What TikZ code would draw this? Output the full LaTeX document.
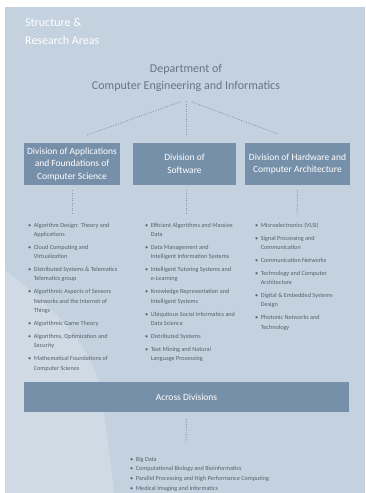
\documentclass[tikz,border=0pt]{standalone}
\usepackage{fontspec}
\setmainfont{Carlito}
\definecolor{panel}{HTML}{C4D2DF}
\definecolor{panellight}{HTML}{CFDAE5}
\definecolor{boxfill}{HTML}{7790AA}
\definecolor{dotcol}{HTML}{8497AC}
\definecolor{depttext}{HTML}{687684}
\definecolor{listtext}{HTML}{56606C}
\tikzset{
  divbox/.style={draw=none, fill=boxfill, text=white, align=center, inner sep=0pt,
    font=\fontsize{9.5}{12.5}\selectfont},
  dotline/.style={draw=dotcol, line width=0.9pt, dash pattern=on 0.9pt off 1.6pt},
  listnode/.style={inner sep=0pt, anchor=base west, text=listtext,
    font=\fontsize{6.2}{9.3}\selectfont},
}
\newcommand\bul{\textbullet}
\begin{document}
\begin{tikzpicture}[x=1pt,y=-1pt]
\useasboundingbox (0,0) rectangle (366,493);
% background
\fill[panel] (5,7) rectangle (365,493);
\fill[panellight] (5,270) .. controls (70,320) and (100,360) .. (104,410)
  .. controls (108,450) and (112,470) .. (114,493) -- (5,493) -- cycle;
% title
\node[anchor=base west, inner sep=0pt, text=white, align=left,
  font=\fontsize{12}{18}\selectfont] (title) at (25,44) {Structure \&\\Research Areas};
% department
\node[anchor=base, inner sep=0pt, text=depttext, align=center,
  font=\fontsize{12}{17}\selectfont] (dept) at (186,89)
  {Department of\\Computer Engineering and Informatics};
% division boxes
\node[divbox, minimum width=96pt, minimum height=42pt] (app) at (72,164)
  {Division of Applications\\and Foundations of\\Computer Science};
\node[divbox, minimum width=103pt, minimum height=42pt] (soft) at (184.5,164)
  {Division of\\Software};
\node[divbox, minimum width=105pt, minimum height=42pt] (hw) at (297.5,164)
  {Division of Hardware and\\Computer Architecture};
% connectors from department
\coordinate (jl) at (180,102);
\coordinate (jc) at (186,101);
\coordinate (jr) at (192,102);
\coordinate (el) at (87,135);
\coordinate (ec) at (186,135);
\coordinate (er) at (278,134);
\draw[dotline] (jl) -- (el);
\draw[dotline] (jc) -- (ec);
\draw[dotline] (jr) -- (er);
% connectors below boxes
\coordinate (al) at (72,215);
\coordinate (sl) at (186,215);
\coordinate (hl) at (297,215);
\draw[dotline] ([yshift=-5pt]app.south) -- (al);
\draw[dotline] ([xshift=1.5pt,yshift=-5pt]soft.south) -- (sl);
\draw[dotline] ([yshift=-5pt]hw.south) -- (hl);
% lists
\node[listnode] (listA) at (28,227) {\begin{tabular}[t]{@{}l@{\hspace{2.6pt}}l@{}}
\bul & Algorithm Design: Theory and\\
 & Applications\\[3.7pt]
\bul & Cloud Computing and\\
 & Virtualization\\[3.7pt]
\bul & Distributed Systems \& Telematics\\
 & Telematics group\\[3.7pt]
\bul & Algorithmic Aspects of Sensors\\
 & Networks and the Internet of\\
 & Things\\[3.7pt]
\bul & Algorithmic Game Theory\\[3.7pt]
\bul & Algorithms, Optimization and\\
 & Security\\[3.7pt]
\bul & Mathematical Foundations of\\
 & Computer Science
\end{tabular}};
\node[listnode] (listB) at (145,227) {\begin{tabular}[t]{@{}l@{\hspace{2.6pt}}l@{}}
\bul & Efficient Algorithms and Massive\\
 & Data\\[3.7pt]
\bul & Data Management and\\
 & Intelligent Information Systems\\[3.7pt]
\bul & Intelligent Tutoring Systems and\\
 & e-Learning\\[3.7pt]
\bul & Knowledge Representation and\\
 & Intelligent Systems\\[3.7pt]
\bul & Ubiquitous Social Informatics and\\
 & Data Science\\[3.7pt]
\bul & Distributed Systems\\[3.7pt]
\bul & Text Mining and Natural\\
 & Language Processing
\end{tabular}};
\node[listnode] (listC) at (255,227) {\begin{tabular}[t]{@{}l@{\hspace{2.6pt}}l@{}}
\bul & Microelectronics (VLSI)\\[3.7pt]
\bul & Signal Processing and\\
 & Communication\\[3.7pt]
\bul & Communication Networks\\[3.7pt]
\bul & Technology and Computer\\
 & Architecture\\[3.7pt]
\bul & Digital \& Embedded Systems\\
 & Design\\[3.7pt]
\bul & Photonic Networks and\\
 & Technology
\end{tabular}};
% across divisions
\node[divbox, minimum width=325pt, minimum height=30pt] (across) at (186.5,397)
  {Across Divisions};
\coordinate (xl) at (186,443);
\draw[dotline] ([yshift=-7pt]across.south) -- (xl);
\node[listnode, font=\fontsize{6.2}{9.7}\selectfont] (listD) at (130,461)
{\begin{tabular}[t]{@{}l@{\hspace{2.6pt}}l@{}}
\bul & Big Data\\
\bul & Computational Biology and Bioinformatics\\
\bul & Parallel Processing and High Performance Computing\\
\bul & Medical Imaging and Informatics
\end{tabular}};
\end{tikzpicture}
\end{document}
